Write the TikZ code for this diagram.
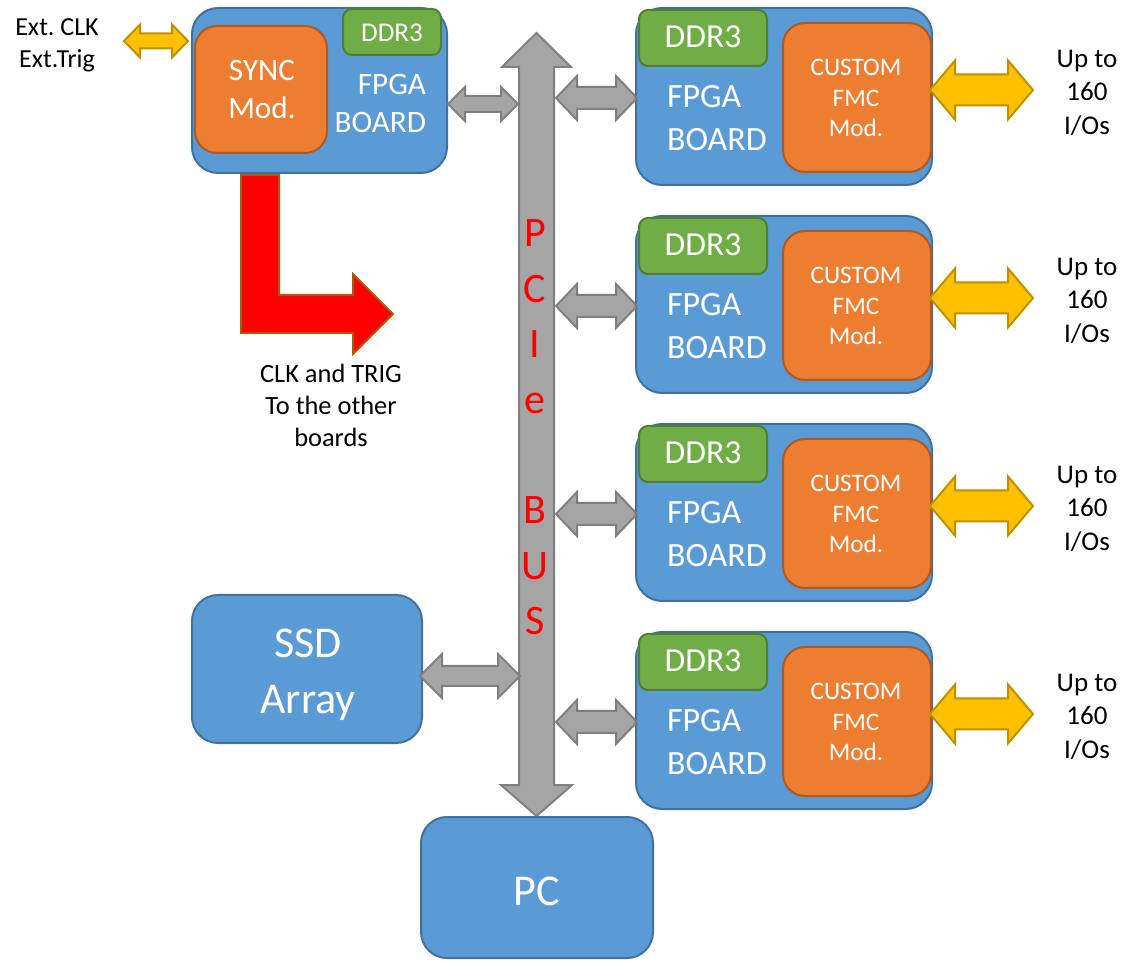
\documentclass[tikz,border=0pt]{standalone}
\usepackage{fontspec}
\setmainfont{Carlito}
\usetikzlibrary{calc,fit}

\definecolor{bluefill}{HTML}{5B9BD5}
\definecolor{blueline}{HTML}{41719C}
\definecolor{greenfill}{HTML}{70AD47}
\definecolor{greenline}{HTML}{507E32}
\definecolor{orangefill}{HTML}{ED7D31}
\definecolor{orangeline}{HTML}{AE5A21}
\definecolor{greyfill}{HTML}{A5A5A5}
\definecolor{greyline}{HTML}{7F7F7F}
\definecolor{goldfill}{HTML}{FFC000}
\definecolor{goldline}{HTML}{BF9000}
\definecolor{redline}{RGB}{170,90,10}

% fat double-headed arrow, horizontal, y taken from the first point
% #1 style, #2 from, #3 to, #4 head half-height, #5 shaft half-height, #6 head length
\newcommand\fatdarrow[6][]{%
  \draw[#1] let \p1=#2, \p2=#3 in
    (\x1,\y1) -- (\x1+#6*0.5pt,\y1+#4*0.5pt) -- (\x1+#6*0.5pt,\y1+#5*0.5pt)
    -- (\x2-#6*0.5pt,\y1+#5*0.5pt) -- (\x2-#6*0.5pt,\y1+#4*0.5pt) -- (\x2,\y1)
    -- (\x2-#6*0.5pt,\y1-#4*0.5pt) -- (\x2-#6*0.5pt,\y1-#5*0.5pt)
    -- (\x1+#6*0.5pt,\y1-#5*0.5pt) -- (\x1+#6*0.5pt,\y1-#4*0.5pt) -- cycle;}

\begin{document}
\begin{tikzpicture}[x=0.5pt,y=-0.5pt,
  every node/.style={inner sep=0pt, outer sep=0pt},
  board/.style={draw=blueline, fill=bluefill, line width=1pt, rounded corners=13pt},
  ddrbox/.style={draw=greenline, fill=greenfill, line width=1pt, rounded corners=4.5pt},
  modbox/.style={draw=orangeline, fill=orangefill, line width=1pt, rounded corners=11pt},
  wtxt/.style={text=white, anchor=base},
  btxt/.style={text=black, anchor=base},
  bustxt/.style={text=red, anchor=base, font=\fontsize{21}{25}\selectfont},
  greyarrow/.style={draw=greyline, fill=greyfill, line width=1pt, line join=miter},
  goldarrow/.style={draw=goldline, fill=goldfill, line width=1pt, line join=miter},
  redarrow/.style={draw=redline, fill=red, line width=1pt, line join=miter}]

\useasboundingbox (0,0) rectangle (1131,962);

% ---- PCIe bus ----
\node[fit={(519,67) (554,785)}] (bus) {};
\draw[greyarrow, draw=gray] (bus.north west) -- ++(-17,0) -- ($(bus.north)+(0,-34)$)
  -- ($(bus.north east)+(17,0)$) -- (bus.north east) -- (bus.south east) -- ++(18,0)
  -- ($(bus.south)+(0,31)$) -- ($(bus.south west)+(-18,0)$) -- (bus.south west) -- cycle;
\foreach \ch [count=\k from 0] in {P,C,I,e,{},B,U,S}
  \node[bustxt] (bus\k) at (535,{247+55.4*\k}) {\ch};

% ---- synchronising board ----
\node[board, fit={(192,8) (447,173)}] (b0) {};
\node[ddrbox, fit={(343,9) (441,55)}] (d0) {};
\node[modbox, fit={(195,26) (327,153)}] (s0) {};
\node[wtxt, font=\fontsize{13.5}{16}\selectfont] (d0t) at (392,42) {DDR3};
\node[wtxt, font=\fontsize{15.6}{19}\selectfont] (s0a) at (262,81) {SYNC};
\node[wtxt, font=\fontsize{15.6}{19}\selectfont] (s0b) at (262,119) {Mod.};
\node[wtxt, anchor=base east, font=\fontsize{15.6}{19}\selectfont] (b0a) at (426,95) {FPGA};
\node[wtxt, anchor=base east, font=\fontsize{15.6}{19}\selectfont] (b0b) at (426,133) {BOARD};

% external clock / trigger
\node[btxt, font=\fontsize{13}{16}\selectfont] (ext1) at (57,36) {Ext.\ CLK};
\node[btxt, font=\fontsize{13}{16}\selectfont] (ext2) at (57,68) {Ext.Trig};
\coordinate (extend) at (124,41);
\fatdarrow[goldarrow]{(extend)}{($(b0.west)+(-4,0)$)}{16.5}{7.5}{16}

% board to bus
\fatdarrow[greyarrow]{($(b0.east)+(1,13.5)$)}{($(bus.west)+(-1,0)$)}{17}{8}{17}

% clock and trigger distribution
\coordinate (redtop) at (241,175);
\draw[redarrow] (redtop) -- ++(38,0) -- ++(0,120) -- ++(74,0) -- ++(0,-21)
  -- ++(40,40) -- ++(-40,40) -- ++(0,-21) -- ++(-112,0) -- cycle;
\node[btxt, font=\fontsize{13.2}{16}\selectfont] (ct1) at (331,383) {CLK and TRIG};
\node[btxt, font=\fontsize{13.2}{16}\selectfont] (ct2) at (331,415) {To the other};
\node[btxt, font=\fontsize{13.2}{16}\selectfont] (ct3) at (331,447) {boards};

% ---- acquisition boards ----
\foreach \i/\T in {1/8,2/216,3/424,4/632}{
  \node[board, fit={(636,\T) (932,\T+177)}] (r\i) {};
  \node[ddrbox, fit={(639,\T+2) (767,\T+58)}] (rd\i) {};
  \node[modbox, fit={(783,\T+15) (931,\T+164)}] (rm\i) {};
  \node[wtxt, font=\fontsize{16.8}{20}\selectfont] (rdt\i) at (703,\T+40) {DDR3};
  \node[wtxt, anchor=base west, font=\fontsize{17}{20}\selectfont] (rfa\i) at (667,\T+100) {FPGA};
  \node[wtxt, anchor=base west, font=\fontsize{17}{20}\selectfont] (rfb\i) at (667,\T+143) {BOARD};
  \node[wtxt, font=\fontsize{12.6}{15}\selectfont] (rma\i) at (856,\T+68) {CUSTOM};
  \node[wtxt, font=\fontsize{12.6}{15}\selectfont] (rmb\i) at (856,\T+99) {FMC};
  \node[wtxt, font=\fontsize{12.6}{15}\selectfont] (rmc\i) at (856,\T+129) {Mod.};
  \node[btxt, font=\fontsize{13.5}{16}\selectfont] (up\i) at (1087,\T+60) {Up to};
  \node[btxt, font=\fontsize{13.5}{16}\selectfont] (nb\i) at (1087,\T+93) {160};
  \node[btxt, font=\fontsize{13.5}{16}\selectfont] (io\i) at (1087,\T+127) {I/Os};
  \coordinate (ioend\i) at (1033,\T+82);
  \fatdarrow[greyarrow]{($(bus.east |- r\i.north)+(2,90)$)}{($(r\i.west)+(1,0)$)}{22}{11}{21}
  \fatdarrow[goldarrow]{($(rm\i.east |- r\i.north)+(-1,82)$)}{(ioend\i)}{29.5}{15.5}{25}
}

% ---- storage and host ----
\node[board, fit={(192,595) (422,743)}] (ssd) {};
\node[wtxt, font=\fontsize{22}{26}\selectfont] (ssda) at (308,658) {SSD};
\node[wtxt, font=\fontsize{22}{26}\selectfont] (ssdb) at (308,713) {Array};
\fatdarrow[greyarrow]{($(ssd.east)+(-2,7)$)}{($(bus.west)+(1,0)$)}{22}{10}{22}

\node[board, fit={(421,817) (653,958)}] (pc) {};
\node[wtxt, font=\fontsize{22}{26}\selectfont] (pct) at (537,905) {PC};

\end{tikzpicture}
\end{document}
